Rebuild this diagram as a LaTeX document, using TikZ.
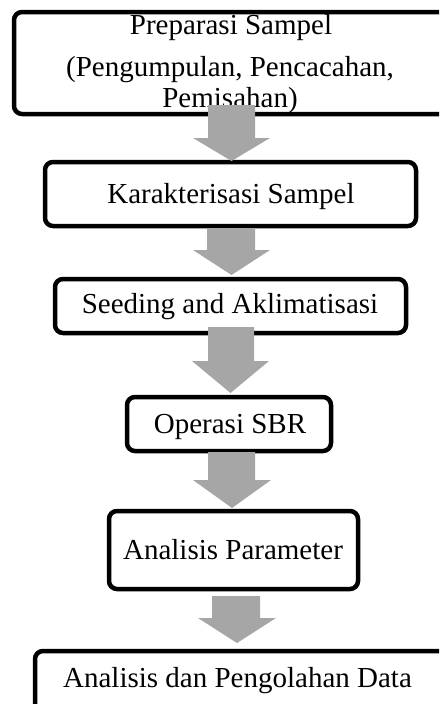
\documentclass[tikz,border=0pt]{standalone}
\usepackage{fontspec}
\setmainfont{Liberation Serif}
\definecolor{arrowgray}{RGB}{166,166,166}
\begin{document}
\begin{tikzpicture}[x=1pt,y=-1pt,
  box/.style={draw=black, line width=4.5pt, rounded corners=8pt, fill=white,
    inner sep=0pt, outer sep=0pt},
  lbl/.style={anchor=base, inner sep=0pt, font=\fontsize{29}{35}\selectfont},
  blockarrow/.style={fill=arrowgray, draw=none}]
\useasboundingbox (0,0) rectangle (439,704);
\clip (0,0) rectangle (439,704);
% boxes
\node[box, minimum width=446pt, minimum height=102pt] (b1) at (237,63) {};
\node[box, minimum width=371pt, minimum height=64pt] (b2) at (230.5,194) {};
\node[box, minimum width=351pt, minimum height=54pt] (b3) at (230.5,306) {};
\node[box, minimum width=204pt, minimum height=54pt] (b4) at (229,424) {};
\node[box, minimum width=249pt, minimum height=78pt] (b5) at (233.5,550) {};
\node[box, minimum width=425pt, minimum height=69pt] (b6) at (247.5,685.5) {};
% texts
\node[lbl] (t1a) at (231,34) {Preparasi Sampel};
\node[lbl] (t1b) at (230,76) {(Pengumpulan, Pencacahan,};
\node[lbl] (t1c) at (230,107) {Pemisahan)};
\node[lbl] (t2) at (231,203) {Karakterisasi Sampel};
\node[lbl] (t3) at (230,313) {Seeding and Aklimatisasi};
\node[lbl] (t4) at (230,433) {Operasi SBR};
\node[lbl] (t5) at (233,559) {Analisis Parameter};
\node[lbl] (t6) at (237.5,687) {Analisis dan Pengolahan Data};
% block arrows
\fill[blockarrow] (208,105) -- (255,105) -- (255,138) -- (270,138) -- (231.5,161) -- (193,138) -- (208,138) -- cycle;
\fill[blockarrow] (207,228) -- (255,228) -- (255,250) -- (270,250) -- (231.5,275) -- (193,250) -- (207,250) -- cycle;
\fill[blockarrow] (208,327) -- (254,327) -- (254,361) -- (269,361) -- (230.5,393) -- (192,361) -- (208,361) -- cycle;
\fill[blockarrow] (208,452) -- (255,452) -- (255,480) -- (271,480) -- (232,508) -- (193,480) -- (208,480) -- cycle;
\fill[blockarrow] (212,596) -- (260,596) -- (260,618) -- (276,618) -- (237,643) -- (198,618) -- (212,618) -- cycle;
\end{tikzpicture}
\end{document}
